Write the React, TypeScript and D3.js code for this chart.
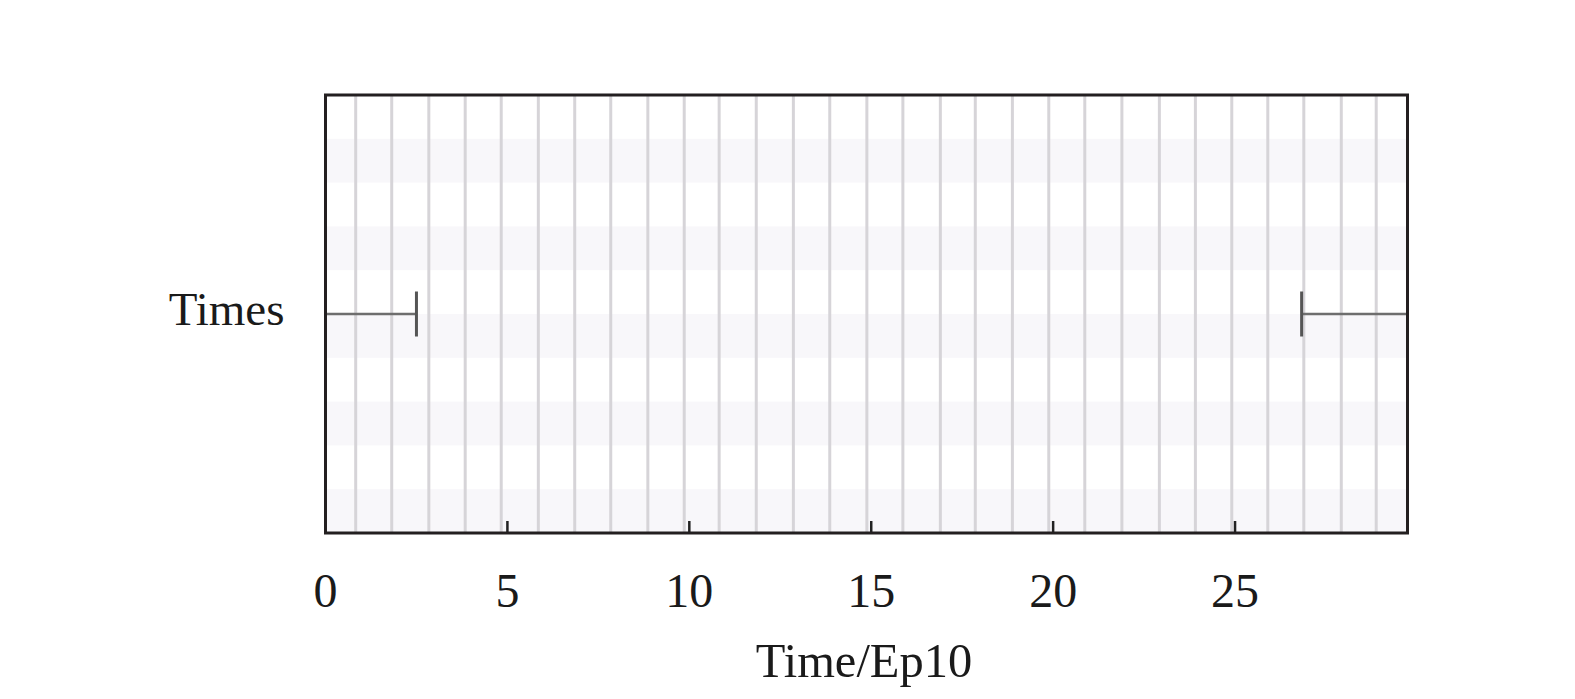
import React from "react";
import * as d3 from "d3";

// ---- data ----
const categories: string[] = ["Times"];
const xTicks: number[] = [0, 5, 10, 15, 20, 25];
const xDomain: [number, number] = [0, 29.74];
// vertical grey event lines
const eventLines: number[] = [
  0.83, 1.82, 2.84, 3.84, 4.83, 5.85, 6.85, 7.84, 8.86, 9.86, 10.82, 11.84,
  12.86, 13.86, 14.88, 15.87, 16.9, 17.86, 18.88, 19.88, 20.87, 21.89, 22.92,
  23.91, 24.91, 25.9, 26.89, 27.92, 28.88,
];
// shaded horizontal stripes (stripe index of 10)
const stripeCount = 10;
const shadedStripes: number[] = [1, 3, 5, 7, 9];
// error bar pieces: cap value and the edge it runs to
const errorCaps: { cap: number; edge: number }[] = [
  { cap: 2.5, edge: 0 },
  { cap: 26.83, edge: 29.74 },
];

const W = 1575;
const H = 699;
const L = 325.5;
const R = 1407.5;
const T = 95;
const B = 533;
const FONT = "'Liberation Serif', 'Times New Roman', serif";

export default function App() {
  const x = d3.scaleLinear().domain(xDomain).range([L, R]);
  const yStripe = d3.scaleLinear().domain([0, stripeCount]).range([T, B]);
  const yCat = d3.scaleBand<string>().domain(categories).range([T, B]);
  const cy = (yCat(categories[0]) as number) + yCat.bandwidth() / 2;

  return (
    <svg
      width={W}
      height={H}
      style={{ position: "absolute", left: 0, top: 0, background: "#fff" }}
    >
      {shadedStripes.map((s) => (
        <rect
          key={"s" + s}
          x={L}
          y={yStripe(s)}
          width={R - L}
          height={yStripe(s + 1) - yStripe(s)}
          fill="#f8f7fa"
        />
      ))}
      {eventLines.map((v, i) => (
        <line
          key={"g" + i}
          x1={x(v)}
          x2={x(v)}
          y1={T}
          y2={B}
          stroke="#d6d4d8"
          strokeWidth={3}
        />
      ))}
      {/* error bars */}
      {errorCaps.map((e, i) => (
        <g key={"e" + i}>
          <line
            x1={x(e.edge)}
            x2={x(e.cap)}
            y1={cy}
            y2={cy}
            stroke="#6e6e6e"
            strokeWidth={2.5}
          />
          <line
            x1={x(e.cap)}
            x2={x(e.cap)}
            y1={cy - 22.5}
            y2={cy + 22.5}
            stroke="#555"
            strokeWidth={3}
          />
        </g>
      ))}
      {/* ticks */}
      {xTicks.map((t) => (
        <g key={"t" + t}>
          {t > 0 && (
            <line
              x1={x(t)}
              x2={x(t)}
              y1={B}
              y2={B - 12}
              stroke="#222"
              strokeWidth={2.5}
            />
          )}
          <text
            x={x(t)}
            y={606.5}
            textAnchor="middle"
            fontFamily={FONT}
            fontSize={48}
            fill="#1a1a1a"
          >
            {t}
          </text>
        </g>
      ))}
      {/* frame */}
      <rect
        x={L}
        y={T}
        width={R - L}
        height={B - T}
        fill="none"
        stroke="#231f20"
        strokeWidth={3}
      />
      {categories.map((c) => (
        <text
          key={c}
          x={284.5}
          y={325}
          textAnchor="end"
          fontFamily={FONT}
          fontSize={47}
          fill="#1a1a1a"
        >
          {c}
        </text>
      ))}
      <text
        x={864}
        y={677}
        textAnchor="middle"
        fontFamily={FONT}
        fontSize={48.5}
        fill="#1a1a1a"
      >
        Time/Ep10
      </text>
    </svg>
  );
}
